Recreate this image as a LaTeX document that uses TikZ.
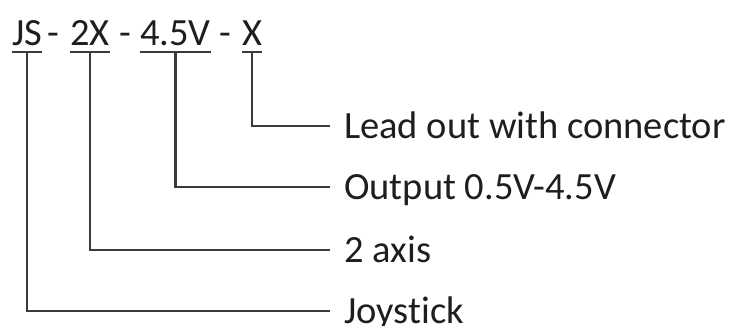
\documentclass[tikz,border=0pt]{standalone}
\usepackage{fontspec}
\setmainfont{Carlito}[Ligatures=NoCommon]
\definecolor{ink}{HTML}{1E1E1E}
\definecolor{wire}{HTML}{3A3A3A}
\begin{document}
\begin{tikzpicture}[x=1pt,y=-1pt,
  tok/.style={inner sep=0pt, anchor=base west, text=ink,
              font=\fontsize{38.5}{46}\selectfont},
  sep/.style={tok, anchor=base},
  lbl/.style={inner ysep=0pt, inner xsep=14pt, anchor=west, text=ink,
              text height=24.3pt, text depth=0pt,
              font=\fontsize{38.5}{46}\selectfont},
  uline/.style={draw=wire, line width=2.4pt},
  wirepath/.style={draw=wire, line width=2.2pt}]
\useasboundingbox (0,0) rectangle (734,325);

% part number, one token per field
\node[tok] (js) at (12,45) {JS};
\node[sep] (d1) at (53,45) {-};
\node[tok] (ax) at (70,45) {2X};
\node[sep] (d2) at (125,45) {-};
\node[tok] (vo) at (140,45) {4.5V};
\node[sep] (d3) at (225,45) {-};
\node[tok] (xx) at (242,45) {X};

% underlines and their midpoints
\foreach \t in {js,ax,vo,xx}{
  \draw[uline] ([yshift=-7pt]\t.base west) -- ([yshift=-7pt]\t.base east);
  \coordinate (u-\t) at ([yshift=-7pt]\t.base);
}

% field descriptions
\node[lbl] (lead) at (330,126) {Lead out with connector};
\node[lbl] (outp) at (330,187) {Output 0.5V-4.5V};
\node[lbl] (axis) at (330,250) {2 axis};
\node[lbl] (joy)  at (330,311) {Joystick};

% leader lines
\draw[wirepath] (u-xx) |- (lead.west);
\draw[wirepath] (u-vo) |- (outp.west);
\draw[wirepath] (u-ax) |- (axis.west);
\draw[wirepath] (u-js) |- (joy.west);
\end{tikzpicture}
\end{document}
